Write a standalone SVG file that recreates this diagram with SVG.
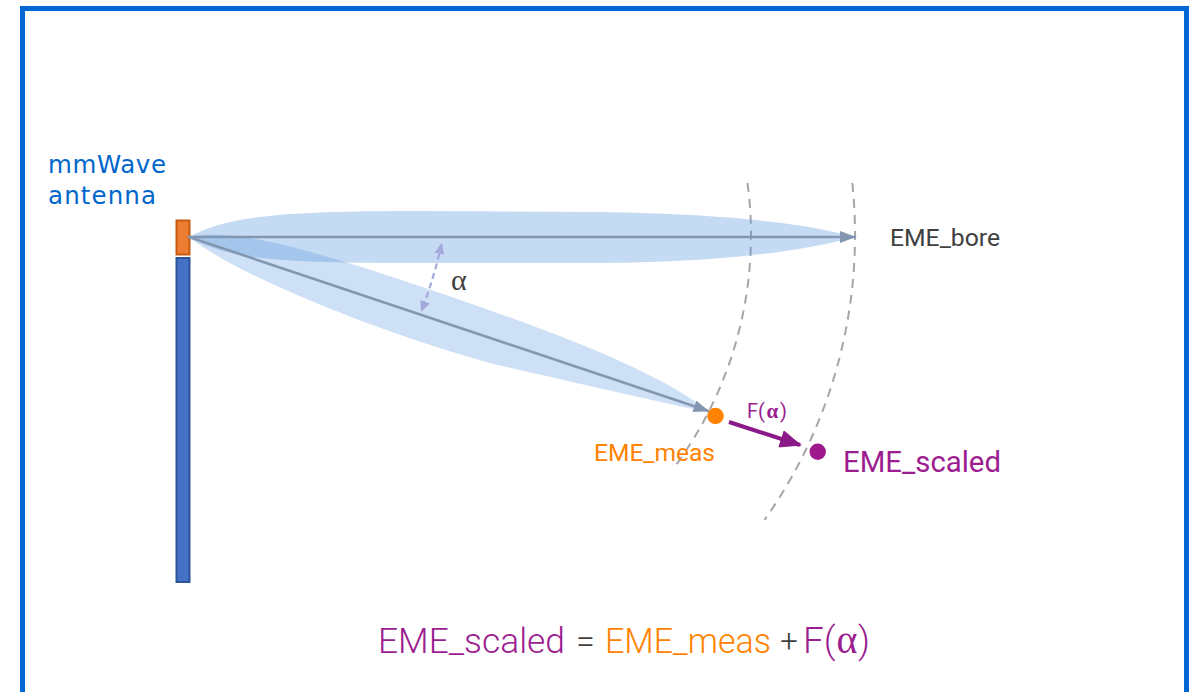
<svg xmlns="http://www.w3.org/2000/svg" width="1194" height="692" viewBox="0 0 1194 692">
<style>
.sans{font-family:Roboto,"Liberation Sans",Arial,sans-serif;}
.wide{font-family:"DejaVu Sans","Liberation Sans",sans-serif;}
.serif{font-family:"Liberation Serif","DejaVu Serif",serif;}
.purple{fill:#9b1d8f;}
.orange{fill:#ff8200;}
.dark{fill:#404040;}
.blue{fill:#0066cc;}
.dash{fill:none;stroke:#a6a6a6;stroke-width:2;stroke-dasharray:9 7;}
.beam{fill:#5e98de;}
</style>
<defs>
<marker id="ahGray" markerUnits="userSpaceOnUse" markerWidth="16" markerHeight="12" refX="15" refY="6" orient="auto"><path d="M0,0 L16,6 L0,12 Z" fill="#8497b0"/></marker>
<marker id="ahPurple" markerUnits="userSpaceOnUse" markerWidth="22" markerHeight="18" refX="20" refY="9" orient="auto"><path d="M0,0 L22,9 L0,18 Z" fill="#8b1a89"/></marker>
<marker id="ahLav" markerUnits="userSpaceOnUse" markerWidth="11" markerHeight="10" refX="10" refY="5" orient="auto-start-reverse"><path d="M0,0 L11,5 L0,10 Z" fill="#a5a8da"/></marker>
</defs>
<rect id="frame" x="22.5" y="8.5" width="1164" height="700" fill="#ffffff" stroke="#0066d4" stroke-width="5"/>

<g id="distance-arcs">
<path class="dash" d="M747.5,183 A390,390 0 0 1 674.5,467"/>
<path class="dash" d="M852.3,183 A494,494 0 0 1 764.5,520"/>
</g>

<g id="beam-bore">
<path class="beam" opacity="0.36" d="M189,237 C230,214 300,211 420,211 L600,212 C720,214 800,222 855,237 C800,252 720,262 600,263 L420,263 C300,263 230,262 189,237 Z"/>
</g>
<g id="beam-meas">
<path class="beam" opacity="0.3" transform="translate(189,237) rotate(18.63)" d="M0,0 C30,-20 100,-26 200,-27 C330,-27 470,-28 552,0 C480,8 420,14 330,23 C220,30 60,22 0,0 Z"/>
</g>

<g id="antenna">
<rect x="176.5" y="220.5" width="13" height="34" fill="#ed7d31" stroke="#c55a11" stroke-width="2"/>
<rect x="176.5" y="258" width="13" height="324" fill="#4472c4" stroke="#2f5597" stroke-width="2"/>
<text class="wide blue" x="48" y="173" font-size="24.5" textLength="118" lengthAdjust="spacing">mmWave</text>
<text class="wide blue" x="48" y="204" font-size="24.5" textLength="108" lengthAdjust="spacing">antenna</text>
</g>

<g id="connectors">
<line x1="189" y1="237" x2="855" y2="237" stroke="#8497b0" stroke-width="2.6" stroke-linecap="round" marker-end="url(#ahGray)"/>
<line x1="189" y1="237" x2="708.5" y2="411" stroke="#8497b0" stroke-width="2.6" stroke-linecap="round" marker-end="url(#ahGray)"/>
<path d="M441.5,244 Q434,278 421.5,311" fill="none" stroke="#a5a8da" stroke-width="2.2" stroke-dasharray="6 4" marker-start="url(#ahLav)" marker-end="url(#ahLav)"/>
<line x1="729" y1="422" x2="800" y2="445" stroke="#8b1a89" stroke-width="4" marker-end="url(#ahPurple)"/>
</g>

<g id="alpha-label">
<text class="serif dark" x="451" y="289.5" font-size="30">α</text>
</g>

<g id="eme-bore">
<text class="sans dark" x="890" y="246" font-size="24" textLength="110" lengthAdjust="spacingAndGlyphs">EME_bore</text>
</g>

<g id="eme-meas">
<circle cx="715.5" cy="416" r="8.3" fill="#ff8200"/>
<text class="sans orange" x="594" y="460.5" font-size="23.5" textLength="121" lengthAdjust="spacingAndGlyphs">EME_meas</text>
</g>

<g id="eme-scaled">
<circle cx="817.7" cy="451.7" r="8.2" fill="#9e1a8c"/>
<text class="sans purple" x="843" y="471.5" font-size="29" textLength="158" lengthAdjust="spacingAndGlyphs">EME_scaled</text>
</g>

<g id="f-alpha-label">
<text class="sans purple" x="747" y="418.3" font-size="20">F(</text>
<text class="serif purple" x="766.5" y="418.3" font-size="21" font-weight="bold">α</text>
<text class="sans purple" x="780" y="418.3" font-size="20">)</text>
</g>

<g id="formula">
<text class="sans purple" x="378" y="653" font-size="35.5" font-weight="300" textLength="187" lengthAdjust="spacingAndGlyphs">EME_scaled</text>
<text class="sans dark" x="585.5" y="653" font-size="34" font-weight="300" text-anchor="middle">=</text>
<text class="sans orange" x="605" y="653" font-size="35" font-weight="300" textLength="166" lengthAdjust="spacingAndGlyphs">EME_meas</text>
<text class="sans dark" x="789" y="652" font-size="31" font-weight="300" text-anchor="middle">+</text>
<text class="sans purple" x="803" y="653" font-size="37" font-weight="300">F(</text>
<text class="serif purple" x="836.5" y="653" font-size="40">α</text>
<text class="sans purple" x="858" y="653" font-size="37" font-weight="300">)</text>
</g>
</svg>
